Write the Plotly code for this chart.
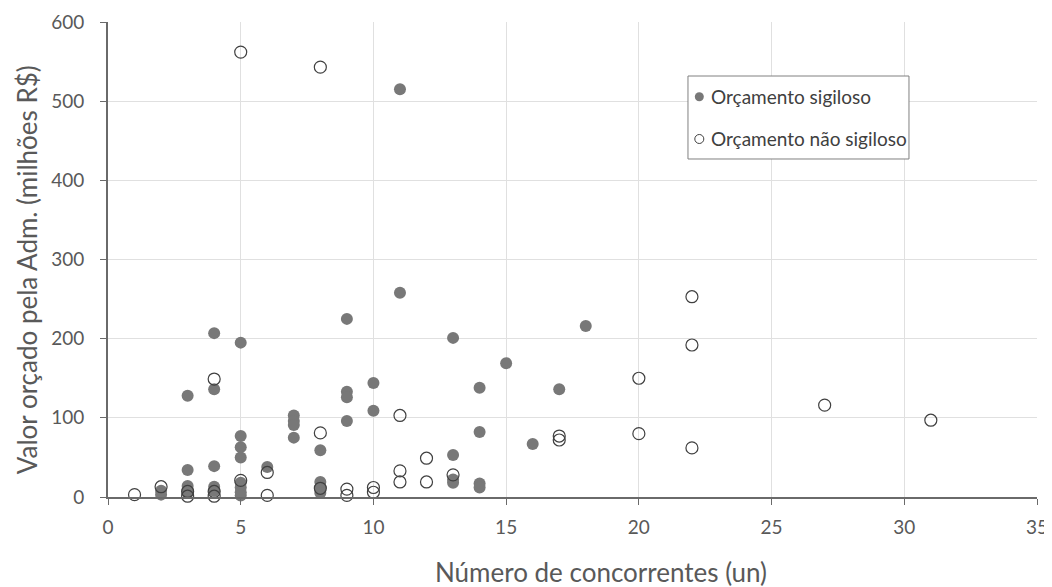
import plotly.graph_objects as go

# Orçamento sigiloso (filled)
sig_x = [2, 2, 3, 3, 3, 3, 3, 4, 4, 4, 4, 4, 5, 5, 5, 5, 5, 5, 5, 5, 6, 7, 7, 7, 7,
         8, 8, 8, 8, 8, 9, 9, 9, 9, 10, 10, 11, 11, 13, 13, 13, 13, 14, 14, 14, 14,
         15, 16, 17, 18]
sig_y = [8, 3, 128, 34, 14, 9, 5, 207, 136, 39, 13, 8, 195, 77, 63, 50, 18, 12, 6, 2,
         38, 103, 96, 91, 75, 59, 19, 12, 5, -2, 225, 133, 126, 96, 144, 109, 515, 258,
         201, 53, 22, 18, 138, 82, 17, 12, 169, 67, 136, 216]

# Orçamento não sigiloso (open)
nsig_x = [1, 2, 3, 3, 4, 4, 4, 5, 5, 6, 6, 8, 8, 8, 9, 9, 10, 10, 11, 11, 11, 12, 12,
          13, 17, 17, 20, 20, 22, 22, 22, 27, 31]
nsig_y = [3, 13, 7, 1, 149, 7, 1, 562, 21, 31, 2, 543, 81, 11, 10, 2, 12, 6, 103, 33, 19,
          49, 19, 28, 77, 72, 150, 80, 253, 192, 62, 116, 97]

x_ticks = [0, 5, 10, 15, 20, 25, 30, 35]
y_ticks = [0, 100, 200, 300, 400, 500, 600]

series_names = ["Orçamento sigiloso", "Orçamento não sigiloso"]
x_title = "Número de concorrentes (un)"
y_title = "Valor orçado pela Adm. (milhões R$)"

FONT = "Lato"
GRAY = "#595959"
FILL = "#787878"
EDGE = "#404040"

fig = go.Figure()
fig.add_trace(go.Scatter(
    x=sig_x, y=sig_y, mode="markers", name=series_names[0], showlegend=False,
    cliponaxis=False,
    marker=dict(size=12, color=FILL, line=dict(width=0)),
))
fig.add_trace(go.Scatter(
    x=nsig_x, y=nsig_y, mode="markers", name=series_names[1], showlegend=False,
    cliponaxis=False,
    marker=dict(size=12, color="rgba(255,255,255,0)", line=dict(width=1.2, color=EDGE)),
))

# manual legend (box, symbols, labels)
lx0, lx1, ly0, ly1 = 0.6243, 0.8622, 0.7116, 0.8863
item_y = [0.8427, 0.7537]
mark_x = 0.6365
text_x = 0.6469
shapes = [dict(type="rect", xref="paper", yref="paper", x0=lx0, x1=lx1, y0=ly0, y1=ly1,
               line=dict(color="#808080", width=1), fillcolor="white", layer="above")]
for i, yy in enumerate(item_y):
    shapes.append(dict(
        type="circle", xref="paper", yref="paper", xsizemode="pixel", ysizemode="pixel",
        xanchor=mark_x, yanchor=yy, x0=-4.5, x1=4.5, y0=-4.5, y1=4.5,
        fillcolor=FILL if i == 0 else "white",
        line=dict(color=FILL if i == 0 else EDGE, width=0 if i == 0 else 1),
        layer="above",
    ))
annotations = [dict(x=text_x, y=yy, xref="paper", yref="paper", text=series_names[i],
                    showarrow=False, xanchor="left", yanchor="middle",
                    font=dict(size=19, color=EDGE, family=FONT))
               for i, yy in enumerate(item_y)]
annotations.append(dict(x=0.5307, y=-0.158, xref="paper", yref="paper", text=x_title,
                        showarrow=False, xanchor="center", yanchor="middle",
                        font=dict(size=26, color=GRAY, family=FONT)))
annotations.append(dict(x=-0.087, y=0.478, xref="paper", yref="paper", text=y_title,
                        showarrow=False, xanchor="center", yanchor="middle", textangle=-90,
                        font=dict(size=26, color=GRAY, family=FONT)))

# page has an 8px body margin: figure sized so that the plot area lands where the reference has it
fig.update_layout(
    width=1044, height=579,
    margin=dict(l=100, r=15, t=14, b=90, autoexpand=False),
    paper_bgcolor="white", plot_bgcolor="white",
    font=dict(family=FONT, color=GRAY, size=16),
    showlegend=False,
    shapes=shapes,
    annotations=annotations,
    xaxis=dict(
        range=[0, 35], tickvals=x_ticks, ticktext=[str(v) for v in x_ticks],
        showgrid=True, gridcolor="#e0e0e0", gridwidth=1,
        showline=True, linecolor="#6a6a6a", linewidth=2,
        ticks="outside", ticklen=6, tickcolor="#6a6a6a",
        zeroline=False, automargin=False, ticklabelstandoff=6,
        tickfont=dict(size=19, color=GRAY),
    ),
    yaxis=dict(
        range=[0, 600], tickvals=y_ticks, ticktext=[str(v) for v in y_ticks],
        showgrid=True, gridcolor="#e0e0e0", gridwidth=1,
        showline=True, linecolor="#6a6a6a", linewidth=2,
        ticks="outside", ticklen=6, tickcolor="#6a6a6a",
        zeroline=False, automargin=False, ticklabelstandoff=12,
        tickfont=dict(size=19, color=GRAY),
    ),
)

fig.write_html("out.html")
